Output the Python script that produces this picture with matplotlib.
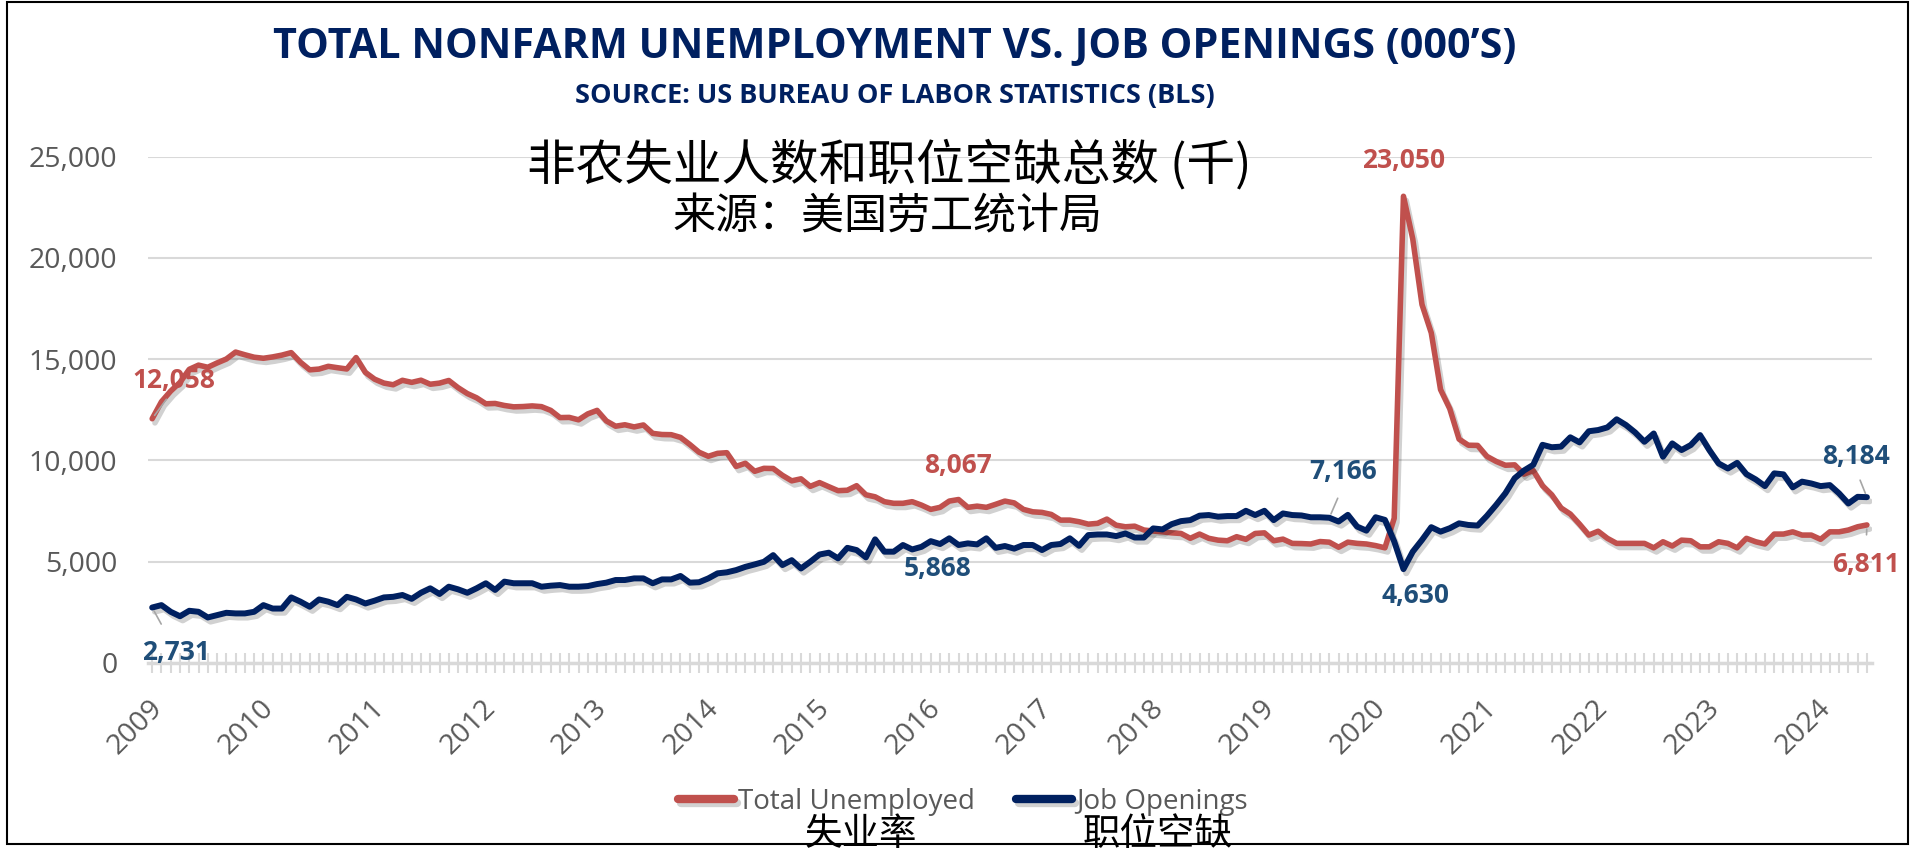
import matplotlib
matplotlib.use("Agg")
import matplotlib.pyplot as plt
import matplotlib.patheffects as pe
import matplotlib.transforms as mtransforms
from matplotlib.patches import Rectangle
from matplotlib.ticker import FuncFormatter

plt.rcParams['font.family'] = ['Open Sans', 'Noto Sans CJK SC', 'DejaVu Sans']

# monthly data, Jan 2009 - Jun 2024 (thousands)
years = [str(y) for y in range(2009, 2025)]

unemployed = [
    12058, 12898, 13426, 13853, 14499, 14707, 14601, 14814, 15009, 15352, 15219, 15098,
    15046, 15113, 15202, 15325, 14849, 14474, 14512, 14648, 14579, 14516, 15081, 14348,
    14013, 13820, 13737, 13957, 13855, 13962, 13763, 13818, 13948, 13594, 13302, 13093,
    12797, 12813, 12713, 12646, 12660, 12692, 12656, 12471, 12115, 12124, 12005, 12298,
    12471, 11950, 11689, 11760, 11654, 11751, 11335, 11279, 11270, 11136, 10787, 10404,
    10202, 10349, 10380, 9702, 9859, 9460, 9608, 9599, 9262, 8990, 9090, 8717,
    8903, 8700, 8504, 8526, 8750, 8302, 8200, 7960, 7880, 7880, 7960, 7790,
    7580, 7680, 7990, 8067, 7680, 7740, 7680, 7830, 7990, 7900, 7580, 7460,
    7430, 7330, 7050, 7050, 6970, 6850, 6890, 7100, 6800, 6720, 6750, 6560,
    6510, 6470, 6420, 6390, 6150, 6360, 6150, 6060, 6030, 6230, 6100, 6390,
    6420, 6030, 6110, 5900, 5890, 5870, 5990, 5960, 5710, 5960, 5900, 5870,
    5790, 5680, 7140, 23050, 20950, 17700, 16300, 13500, 12550, 11050, 10750, 10740,
    10200, 9950, 9760, 9780, 9320, 9500, 8750, 8300, 7650, 7350, 6850, 6310,
    6500, 6150, 5900, 5900, 5900, 5900, 5680, 5980, 5770, 6060, 6030, 5730,
    5730, 5980, 5900, 5680, 6150, 5980, 5870, 6360, 6360, 6470, 6310, 6310,
    6100, 6470, 6470, 6560, 6720, 6811,
]

openings = [
    2731, 2850, 2520, 2300, 2570, 2520, 2240, 2355, 2470, 2440, 2440, 2520,
    2850, 2680, 2680, 3230, 3020, 2770, 3130, 3020, 2850, 3260, 3130, 2930,
    3070, 3230, 3260, 3350, 3160, 3460, 3680, 3400, 3760, 3630, 3460, 3680,
    3930, 3600, 4010, 3930, 3930, 3930, 3760, 3810, 3840, 3760, 3760, 3790,
    3890, 3960, 4090, 4090, 4170, 4170, 3930, 4120, 4120, 4290, 3960, 3980,
    4170, 4420, 4470, 4580, 4740, 4860, 4990, 5320, 4830, 5070, 4660, 4990,
    5350, 5440, 5160, 5680, 5570, 5210, 6100, 5490, 5490, 5820, 5600, 5730,
    6010, 5868, 6150, 5820, 5900, 5850, 6150, 5680, 5770, 5640, 5820, 5820,
    5570, 5820, 5870, 6150, 5780, 6310, 6340, 6340, 6260, 6390, 6190, 6190,
    6640, 6590, 6850, 7000, 7050, 7270, 7300, 7220, 7250, 7250, 7510, 7300,
    7510, 7050, 7380, 7300, 7280, 7190, 7190, 7166, 6980, 7310, 6730, 6530,
    7190, 7060, 6000, 4630, 5490, 6070, 6700, 6480, 6650, 6890, 6810, 6780,
    7260, 7800, 8380, 9120, 9500, 9780, 10770, 10650, 10680, 11140, 10890, 11440,
    11500, 11630, 12030, 11750, 11380, 10920, 11330, 10180, 10840, 10510, 10760, 11250,
    10510, 9850, 9600, 9880, 9320, 9060, 8730, 9360, 9310, 8670, 8950, 8860,
    8730, 8780, 8370, 7870, 8200, 8184,
]

# which points carry a data label
red_label_idx = [0, 87, 135, 185]
blue_label_idx = [0, 85, 127, 135, 185]

RED = '#C0504D'
NAVY = '#002060'
LABEL_BLUE = '#1F4E79'
GREY = '#595959'
GRID = '#D9D9D9'

W, H = 1921, 850
fig = plt.figure(figsize=(W / 100, H / 100), dpi=100)
ax = fig.add_axes([148 / W, 1 - 662.8 / H, (1872 - 148) / W, (662.8 - 156.8) / H])

x = list(range(len(unemployed)))
shadow = [pe.SimpleLineShadow(offset=(2, -3), shadow_color='black', alpha=0.18), pe.Normal()]
l1, = ax.plot(x, unemployed, color=RED, lw=4, solid_joinstyle='round',
              solid_capstyle='round', path_effects=shadow, label='Total Unemployed', zorder=3)
l2, = ax.plot(x, openings, color=NAVY, lw=4.3, solid_joinstyle='round',
              solid_capstyle='round', path_effects=shadow, label='Job Openings', zorder=4)

ax.set_xlim(-0.45, len(x) - 0.45)
ax.set_ylim(0, 25000)
ax.set_yticks(range(0, 25001, 5000))
ax.yaxis.set_major_formatter(FuncFormatter(lambda v, p: f'{v:,.0f}'))
ax.grid(axis='y', color=GRID, lw=1.5)
ax.set_axisbelow(True)
for s in ['top', 'right', 'left']:
    ax.spines[s].set_visible(False)
ax.spines['bottom'].set_color(GRID)
ax.spines['bottom'].set_linewidth(2.5)
ax.tick_params(axis='y', length=0, pad=22, labelsize=20.5, labelcolor=GREY)

# monthly ticks, a year label every 12 months
ax.set_xticks(x)
xlabels = [''] * len(x)
for k, yr in enumerate(years):
    xlabels[12 * k] = yr
ax.set_xticklabels(xlabels, rotation=45, ha='right', va='center', rotation_mode='anchor')
ax.tick_params(axis='x', direction='inout', length=15, width=1.5, color=GRID,
               pad=22, labelsize=20.5, labelcolor=GREY)
shift = mtransforms.ScaledTranslation(6 / 100, 0, fig.dpi_scale_trans)
for lab in ax.get_xticklabels():
    lab.set_transform(lab.get_transform() + shift)

# data labels (offsets in pixels)
red_offsets = {0: (22, 38), 87: (0, 34), 135: (0, 36), 185: (-1, -40)}
blue_offsets = {0: (24, -45), 85: (-2, -24), 127: (14, 46), 135: (12, -26), 185: (-11, 41)}
leaders = {('r', 0): (0.45, 0, 2), ('b', 0): (0.4, 1, 10), ('b', 127): (0.5, 0, 8),
           ('b', 185): (0.5, 0, 6), ('r', 185): (0.5, 1, 10)}

def put_label(key, i, val, off, color):
    kw = dict(xytext=off, textcoords='offset pixels', ha='center', va='center',
              color=color, fontsize=19, fontweight='bold', zorder=6)
    if key in leaders:
        rx, ry, sa = leaders[key]
        kw['arrowprops'] = dict(arrowstyle='-', color='#A6A6A6', lw=1.2,
                                shrinkA=sa, shrinkB=3, relpos=(rx, ry))
    ax.annotate(f'{val:,}', (i, val), **kw)

for i in red_label_idx:
    put_label(('r', i), i, unemployed[i], red_offsets[i], RED)
for i in blue_label_idx:
    put_label(('b', i), i, openings[i], blue_offsets[i], LABEL_BLUE)

# titles
fig.text(895 / W, 1 - 48 / H, 'TOTAL NONFARM UNEMPLOYMENT VS. JOB OPENINGS (000’S)',
         ha='center', va='center', fontsize=29.7, fontweight='bold', color=NAVY)
fig.text(895 / W, 1 - 96 / H, 'SOURCE: US BUREAU OF LABOR STATISTICS (BLS)',
         ha='center', va='center', fontsize=19.5, fontweight='bold', color=NAVY)
cjk = ['Noto Sans CJK SC', 'DejaVu Sans']
fig.text(889 / W, 1 - 165 / H, '非农失业人数和职位空缺总数 (千)', family=cjk,
         ha='center', va='center', fontsize=35, color='black', zorder=7)
fig.text(887 / W, 1 - 217 / H, '来源：美国劳工统计局', family=cjk,
         ha='center', va='center', fontsize=31, color='black', zorder=7)

# legend
leg = fig.legend(handles=[l1, l2], loc='center', bbox_to_anchor=(963 / W, 1 - 802 / H),
                 ncol=2, frameon=False, fontsize=20, handlelength=2.0, handletextpad=0.15,
                 columnspacing=1.5, labelcolor=GREY)
for ln in leg.get_lines():
    ln.set_linewidth(6)
    ln.set_solid_capstyle('round')
fig.text(861 / W, 1 - 834 / H, '失业率', family=cjk, ha='center', va='center',
         fontsize=27, color='black', zorder=7)
fig.text(1158 / W, 1 - 834 / H, '职位空缺', family=cjk, ha='center', va='center',
         fontsize=27, color='black', zorder=7)

# outer frame
fig.patches.append(Rectangle((7 / W, 6 / H), (1908 - 7) / W, (848 - 6) / H,
                             transform=fig.transFigure, fill=False, ec='black', lw=1.5))

fig.savefig('out.png', dpi=100)
